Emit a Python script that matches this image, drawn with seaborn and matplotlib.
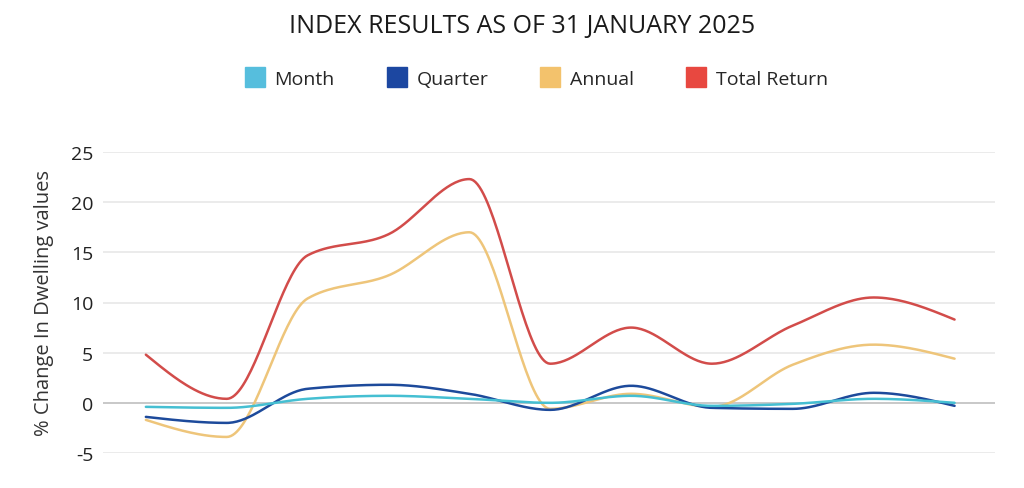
import numpy as np
import pandas as pd
import matplotlib
matplotlib.use("Agg")
import matplotlib.pyplot as plt
import seaborn as sns
from matplotlib.lines import Line2D

# ---- data ----
categories = list(range(11))
month = [-0.4, -0.5, 0.4, 0.7, 0.4, 0.0, 0.7, -0.3, -0.1, 0.4, 0.0]
quarter = [-1.4, -2.0, 1.4, 1.8, 0.9, -0.7, 1.7, -0.5, -0.6, 1.0, -0.3]
annual = [-1.7, -3.4, 10.4, 12.7, 17.0, -0.6, 0.9, -0.4, 3.8, 5.8, 4.4]
total_return = [4.8, 0.4, 14.7, 16.8, 22.3, 3.9, 7.5, 3.9, 7.7, 10.5, 8.3]
series_names = ["Month", "Quarter", "Annual", "Total Return"]
yticks = [-5, 0, 5, 10, 15, 20, 25]

line_colors = {"Month": "#45bfd2", "Quarter": "#1d4a9b",
               "Annual": "#eec57a", "Total Return": "#d24c4a"}
swatch_colors = {"Month": "#56bedd", "Quarter": "#1c47a1",
                 "Annual": "#f3c26c", "Total Return": "#e84840"}


def monotone_curve(xs, ys, n=40):
    """Render-only smoothing (d3 curveMonotoneX style)."""
    xs = np.asarray(xs, float)
    ys = np.asarray(ys, float)
    h = np.diff(xs)
    s = np.diff(ys) / h
    t = np.zeros_like(ys)
    for i in range(1, len(ys) - 1):
        s0, s1 = s[i - 1], s[i]
        p = (s0 * h[i] + s1 * h[i - 1]) / (h[i - 1] + h[i])
        t[i] = (np.sign(s0) + np.sign(s1)) * min(abs(s0), abs(s1), 0.5 * abs(p))
    t[0] = (3 * s[0] - t[1]) / 2
    t[-1] = (3 * s[-1] - t[-2]) / 2
    out_x, out_y = [], []
    for i in range(len(xs) - 1):
        u = np.linspace(0, 1, n, endpoint=(i == len(xs) - 2))
        h00 = 2 * u**3 - 3 * u**2 + 1
        h10 = u**3 - 2 * u**2 + u
        h01 = -2 * u**3 + 3 * u**2
        h11 = u**3 - u**2
        out_x.extend(xs[i] + u * h[i])
        out_y.extend(h00 * ys[i] + h10 * h[i] * t[i] + h01 * ys[i + 1] + h11 * h[i] * t[i + 1])
    return np.array(out_x), np.array(out_y)


frames = []
for name, vals in zip(series_names, [month, quarter, annual, total_return]):
    cx, cy = monotone_curve(categories, vals)
    frames.append(pd.DataFrame({"x": cx, "y": cy, "series": name}))
df = pd.concat(frames, ignore_index=True)

sns.set_theme(style="white")
plt.rcParams["font.family"] = ["Open Sans", "DejaVu Sans"]

fig = plt.figure(figsize=(10.24, 4.89), dpi=100)
ax = fig.add_axes([103 / 1024, 1 - 454 / 489, (995 - 103) / 1024, (454 - 153) / 489])

for y in yticks:
    if y == 0:
        ax.axhline(y, color="#c4c4c4", lw=1.3, zorder=1)
    else:
        ax.axhline(y, color="#e6e6e6", lw=1.1, zorder=1)

order = ["Total Return", "Annual", "Quarter", "Month"]
for name in order:
    sub = df[df["series"] == name]
    sns.lineplot(data=sub, x="x", y="y", color=line_colors[name], lw=1.8,
                 estimator=None, sort=False, ax=ax, legend=False, zorder=3)

ax.set_xlim(-0.53, 10.5)
ax.set_ylim(-5, 25)
ax.set_yticks(yticks)
ax.set_yticklabels([str(v) for v in yticks], fontsize=14, color="#222222")
ax.set_xticks([])
ax.set_xlabel("")
ax.set_ylabel("% Change In Dwelling values", fontsize=14.5, color="#333333", labelpad=12)
ax.tick_params(axis="y", length=0, pad=7)
for sp in ax.spines.values():
    sp.set_visible(False)

fig.text(0.51, 1 - 26 / 489, "INDEX RESULTS AS OF 31 JANUARY 2025", ha="center", va="center",
         fontsize=18, color="#1a1a1a")

handles = [Line2D([0], [0], marker="s", linestyle="none", markersize=14,
                  markerfacecolor=swatch_colors[n], markeredgecolor=swatch_colors[n]) for n in series_names]
fig.legend(handles, series_names, loc="center", bbox_to_anchor=(0.523, 1 - 80 / 489), ncol=4,
           frameon=False, fontsize=14, handletextpad=0.4, columnspacing=2.6, handlelength=1.2)

fig.savefig("out.png", dpi=100)
